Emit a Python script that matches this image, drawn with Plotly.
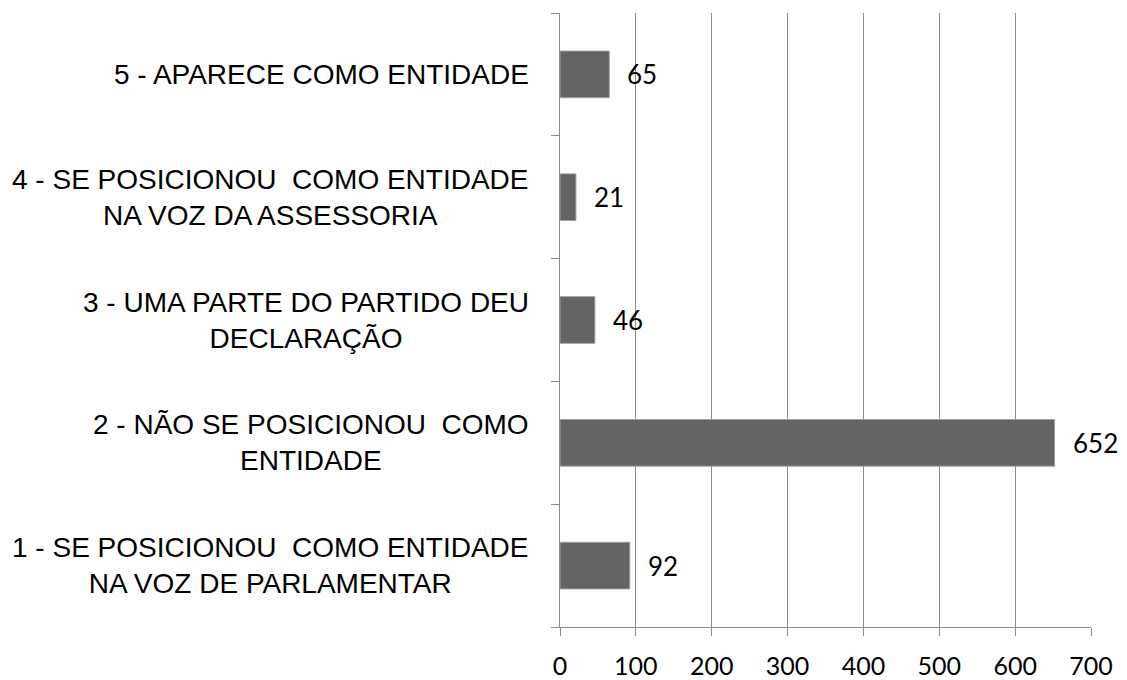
import plotly.graph_objects as go

categories = [
    "1 - SE POSICIONOU  COMO ENTIDADE<br>NA VOZ DE PARLAMENTAR",
    "2 - NÃO SE POSICIONOU  COMO<br>ENTIDADE",
    "3 - UMA PARTE DO PARTIDO DEU<br>DECLARAÇÃO",
    "4 - SE POSICIONOU  COMO ENTIDADE<br>NA VOZ DA ASSESSORIA",
    "5 - APARECE COMO ENTIDADE",
]
values = [92, 652, 46, 21, 65]
x_ticks = [0, 100, 200, 300, 400, 500, 600, 700]

keys = ["cat_" + c.split(" - ")[0] for c in categories]

fig = go.Figure()
fig.add_trace(go.Bar(
    x=values, y=keys, orientation="h",
    marker=dict(color="#636363", line=dict(color="#a0a0a0", width=1)),
    hoverinfo="skip",
))

annotations = []
for k, c in zip(keys, categories):
    annotations.append(dict(
        x=0, xref="paper", y=k, yref="y", text=c, showarrow=False,
        xanchor="right", yanchor="middle", align="center", xshift=-29,
        font=dict(family="Liberation Sans, Arial, sans-serif", size=28, color="#000000"),
    ))
for k, v in zip(keys, values):
    annotations.append(dict(
        x=v, xref="x", y=k, yref="y", text=str(v), showarrow=False,
        xanchor="left", yanchor="middle", xshift=16,
        font=dict(family="Lato, Open Sans, sans-serif", size=26, color="#000000"),
    ))

fig.update_layout(
    width=1127, height=680,
    margin=dict(l=560, r=36, t=13, b=53, autoexpand=False),
    paper_bgcolor="white", plot_bgcolor="white",
    showlegend=False, bargap=0.62,
    annotations=annotations,
    font=dict(family="Lato, Open Sans, sans-serif", size=25, color="#000000"),
)
fig.update_xaxes(
    range=[0, 700], tickvals=x_ticks, ticktext=[str(t) for t in x_ticks],
    showgrid=True, gridcolor="#8c8c8c", gridwidth=1,
    showline=True, linecolor="#8c8c8c", linewidth=1,
    ticks="outside", ticklen=8, tickcolor="#8c8c8c",
    ticklabelstandoff=9, zeroline=False, automargin=False,
    tickfont=dict(family="Lato, Open Sans, sans-serif", size=25, color="#000000"),
)
fig.update_yaxes(
    type="category", categoryorder="array", categoryarray=keys,
    showticklabels=False, showgrid=False, automargin=False,
    showline=True, linecolor="#8c8c8c", linewidth=1,
    ticks="outside", ticklen=8, tickcolor="#8c8c8c", tickson="boundaries",
)

fig.write_html("out.html", config={"displayModeBar": False},
               post_script="document.body.style.margin='0';")
